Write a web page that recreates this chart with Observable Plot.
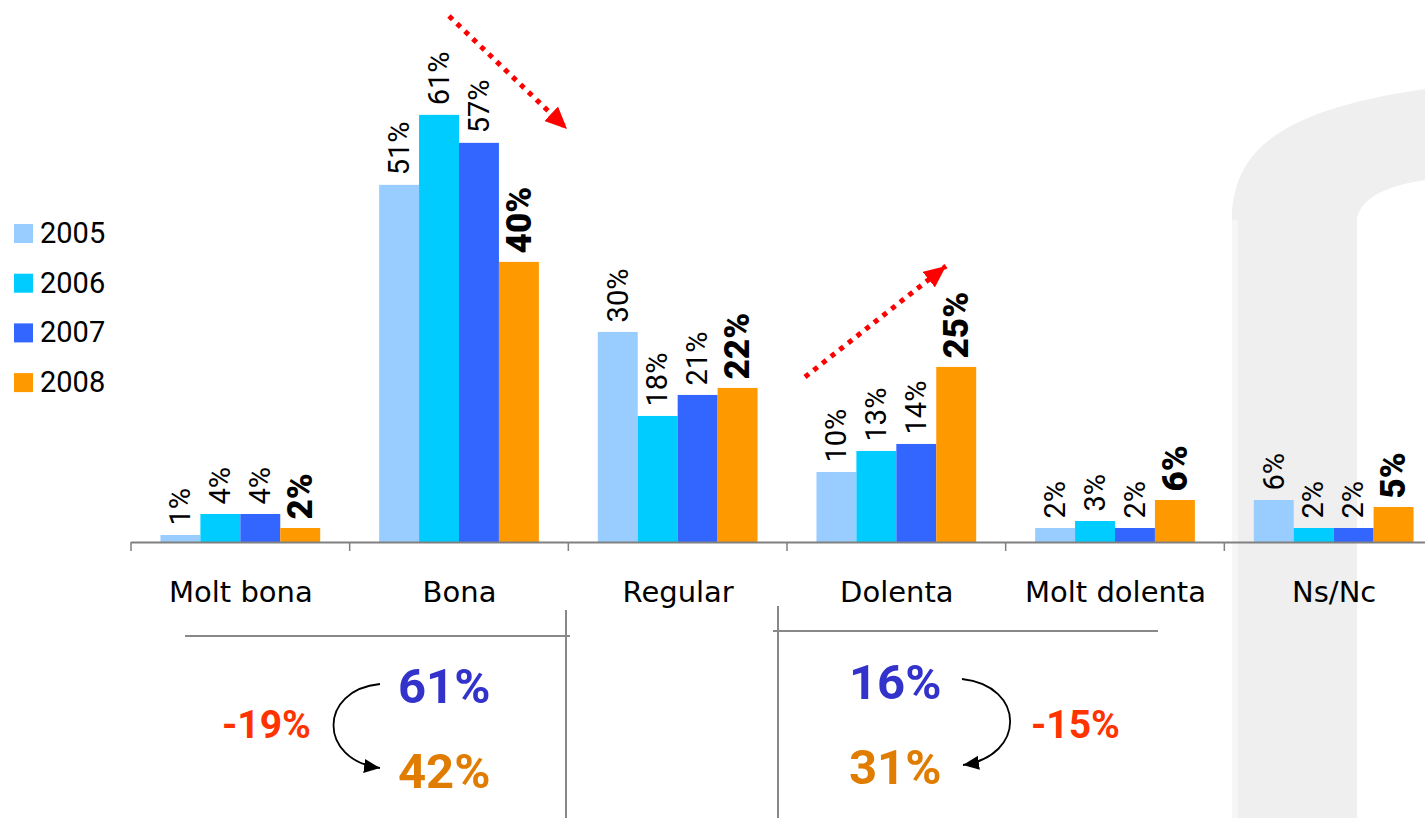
<!DOCTYPE html>
<html><head><meta charset="utf-8">
<script src="https://cdn.jsdelivr.net/npm/d3@7"></script>
<script src="https://cdn.jsdelivr.net/npm/@observablehq/plot@0.6"></script>
<style>
html,body{margin:0;padding:0;overflow:hidden;background:#fff;width:1425px;height:818px}
#wrap{position:relative;width:1425px;height:818px;overflow:hidden}
#wrap > svg{position:absolute;left:0;top:0}
</style></head><body><div id="wrap"></div>
<script>
// ---- data ----
const categories = ["Molt bona", "Bona", "Regular", "Dolenta", "Molt dolenta", "Ns/Nc"];
const years = ["2005", "2006", "2007", "2008"];
const v2005 = [1, 51, 30, 10, 2, 6];
const v2006 = [4, 61, 18, 13, 3, 2];
const v2007 = [4, 57, 21, 14, 2, 2];
const v2008 = [2, 40, 22, 25, 6, 5];
const colors = ["#99CCFF", "#00CCFF", "#3366FF", "#FF9900"];
// summary annotations
const bonaSummary = ["61%", "42%"];
const bonaChange = "-19%";
const dolentaSummary = ["16%", "31%"];
const dolentaChange = "-15%";

const series = [v2005, v2006, v2007, v2008];
const data = categories.flatMap((c, i) => years.map((y, j) => ({cat: c, year: y, value: series[j][i]})));

const wrap = document.getElementById("wrap");

// background watermark
const bg = d3.select(wrap).append("svg").attr("width", 1425).attr("height", 818);
bg.append("path")
  .attr("d", "M1232,818 L1232,213 C1236,150 1280,110 1425,89 L1425,180 C1385,186 1362,198 1357,218 L1357,818 Z")
  .attr("fill", "#efefef");
bg.append("rect").attr("x", 1232).attr("y", 220).attr("width", 6).attr("height", 598).attr("fill", "#f6f6f6");

const plot = Plot.plot({
  width: 1443, height: 620,
  marginLeft: 131, marginRight: 0, marginTop: 0, marginBottom: 78,
  style: {background: "transparent", fontFamily: "DejaVu Sans", fontSize: "29px", overflow: "visible", maxWidth: "none", color: "black"},
  fx: {domain: categories, paddingInner: 0, paddingOuter: 0, round: false, label: null},
  x: {domain: years, paddingInner: 0, paddingOuter: 0.738, round: false, axis: null},
  y: {domain: [0, 77.4], axis: null},
  color: {domain: years, range: colors},
  marks: [
    Plot.barY(data, {fx: "cat", x: "year", y: "value", fill: "year"}),
    Plot.ruleY([0], {stroke: "#808080", strokeWidth: 2}),
    Plot.text(data.filter(d => d.year !== "2008"), {fx: "cat", x: "year", y: "value", text: d => d.value + "%", rotate: -90, textAnchor: "start", dy: -10, fontFamily: "Roboto", fontSize: 29, fill: "black"}),
    Plot.text(data.filter(d => d.year === "2008"), {fx: "cat", x: "year", y: "value", text: d => d.value + "%", rotate: -90, textAnchor: "start", dy: -9, fontFamily: "Roboto", fontWeight: "900", fontSize: 35, fill: "black"}),
    Plot.axisFx({anchor: "bottom", tickSize: 0, tickPadding: 39, label: null, fontSize: 29})
  ]
});
plot.style.maxWidth = "none";
wrap.appendChild(plot);

// category boundary ticks from the fx scale
const fx = plot.scale("fx");
const yS = plot.scale("y");
const y0 = yS.apply(0);
const edges = categories.map(c => fx.apply(c)).concat([fx.apply(categories[categories.length - 1]) + fx.bandwidth]);
d3.select(plot).append("g").selectAll("line").data(edges).join("line")
  .attr("x1", d => d).attr("x2", d => d).attr("y1", y0).attr("y2", y0 + 9)
  .attr("stroke", "#808080").attr("stroke-width", 1.5);

// overlay annotations
const ov = d3.select(wrap).append("svg").attr("width", 1425).attr("height", 818).style("pointer-events", "none");
const defs = ov.append("defs");
defs.append("marker").attr("id", "redHead").attr("markerUnits", "userSpaceOnUse")
  .attr("viewBox", "0 0 22 20").attr("markerWidth", 22).attr("markerHeight", 20)
  .attr("refX", 22).attr("refY", 10).attr("orient", "auto")
  .append("path").attr("d", "M0,0 L22,10 L0,20 Z").attr("fill", "#FF0000");
defs.append("marker").attr("id", "blackHead").attr("markerUnits", "userSpaceOnUse")
  .attr("viewBox", "0 0 16 14").attr("markerWidth", 16).attr("markerHeight", 14)
  .attr("refX", 16).attr("refY", 7).attr("orient", "auto")
  .append("path").attr("d", "M0,0 L16,7 L0,14 Z").attr("fill", "#000");

// legend
years.forEach((y, i) => {
  const top = 224 + i * 49.7;
  ov.append("rect").attr("x", 14).attr("y", top).attr("width", 19).attr("height", 19).attr("fill", colors[i]);
  ov.append("text").attr("x", 40).attr("y", top + 19).attr("font-family", "Roboto").attr("font-size", 29).attr("fill", "#000").text(y);
});

// red dotted trend arrows
ov.append("line").attr("x1", 449).attr("y1", 16).attr("x2", 567).attr("y2", 129)
  .attr("stroke", "#FF0000").attr("stroke-width", 5).attr("stroke-dasharray", "5 6").attr("marker-end", "url(#redHead)");
ov.append("line").attr("x1", 805).attr("y1", 377).attr("x2", 946).attr("y2", 266)
  .attr("stroke", "#FF0000").attr("stroke-width", 5).attr("stroke-dasharray", "5 6").attr("marker-end", "url(#redHead)");

// lower panel lines
const g = "#888";
ov.append("line").attr("x1", 185).attr("y1", 636).attr("x2", 570).attr("y2", 636).attr("stroke", g).attr("stroke-width", 2);
ov.append("line").attr("x1", 566).attr("y1", 610).attr("x2", 566).attr("y2", 818).attr("stroke", g).attr("stroke-width", 2);
ov.append("line").attr("x1", 773).attr("y1", 631).attr("x2", 1158).attr("y2", 631).attr("stroke", g).attr("stroke-width", 2);
ov.append("line").attr("x1", 778).attr("y1", 606).attr("x2", 778).attr("y2", 818).attr("stroke", g).attr("stroke-width", 2);

// curved arrows
ov.append("path").attr("d", "M380,684 C318,690 318,760 380,768").attr("fill", "none").attr("stroke", "#000").attr("stroke-width", 1.8).attr("marker-end", "url(#blackHead)");
ov.append("path").attr("d", "M962,679 C1026,686 1026,756 963,765").attr("fill", "none").attr("stroke", "#000").attr("stroke-width", 1.8).attr("marker-end", "url(#blackHead)");

const big = (x, y, t, c, s) => ov.append("text").attr("x", x).attr("y", y).attr("font-family", "Roboto").attr("font-weight", "bold").attr("font-size", s).attr("fill", c).text(t);
big(398, 703, bonaSummary[0], "#3333CC", 49);
big(398, 788, bonaSummary[1], "#E07C00", 49);
big(222, 738, bonaChange, "#FF3300", 39);
big(849, 699, dolentaSummary[0], "#3333CC", 49);
big(849, 784, dolentaSummary[1], "#E07C00", 49);
big(1031, 738, dolentaChange, "#FF3300", 39);
</script></body></html>
